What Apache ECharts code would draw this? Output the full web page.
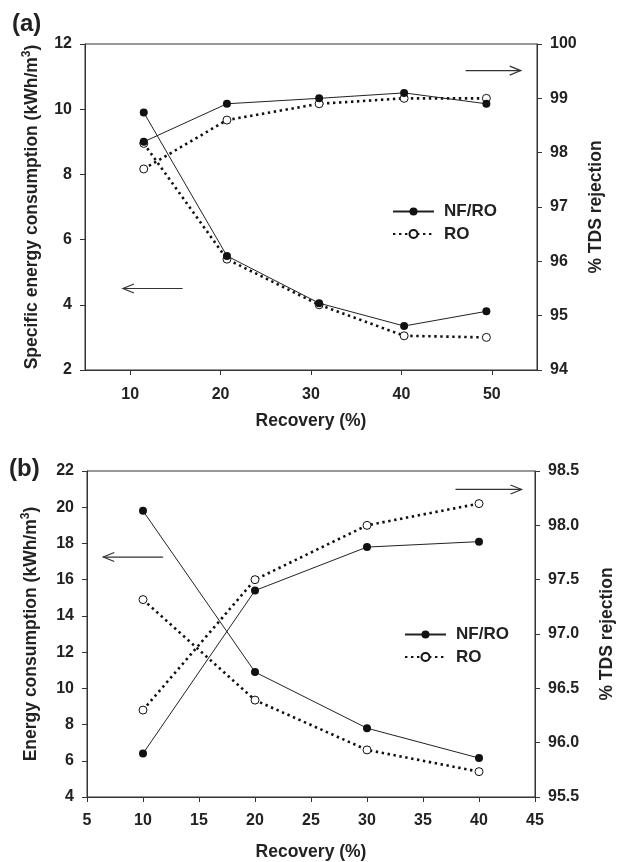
<!DOCTYPE html>
<html>
<head>
<meta charset="utf-8">
<style>
  html, body { margin: 0; padding: 0; background: #fff; }
  #chart { width: 624px; height: 862px; }
</style>
<script src="https://cdn.jsdelivr.net/npm/echarts@6/dist/echarts.min.js"></script>
</head>
<body>
<div id="chart"></div>
<script>
// Panel (a): recovery values and measured series
const recoveryA = [11.5, 20.7, 30.9, 40.3, 49.4];
const energyNfroA = [9.9, 5.5, 4.05, 3.35, 3.8];
const energyRoA = [8.95, 5.4, 4.0, 3.05, 3.0];
const rejectionNfroA = [98.2, 98.9, 99.0, 99.1, 98.9];
const rejectionRoA = [97.7, 98.6, 98.9, 99.0, 99.0];

// Panel (b)
const recoveryB = [10, 20, 30, 40];
const energyNfroB = [19.8, 10.9, 7.8, 6.15];
const energyRoB = [14.9, 9.35, 6.6, 5.4];
const rejectionNfroB = [95.9, 97.4, 97.8, 97.85];
const rejectionRoB = [96.3, 97.5, 98.0, 98.2];

// Tick labels
const xTicksA = [10, 20, 30, 40, 50];

const FONT = 'Liberation Sans, Arial, sans-serif';
const TXT = '#222';
const AX = '#333';
const NAME_SIZE = 17.5;

const pairs = (xs, ys) => xs.map((x, i) => [x, ys[i]]);

const chart = echarts.init(document.getElementById('chart'), null, { renderer: 'canvas' });

const lbl = { color: TXT, fontFamily: FONT, fontWeight: 'bold', fontSize: 16 };
const axisLine = { show: true, lineStyle: { color: AX, width: 1 } };
const axisTick = { show: true, inside: false, length: 5, lineStyle: { color: AX, width: 1 } };

function nameStyle() {
  return { color: TXT, fontFamily: FONT, fontWeight: 'bold', fontSize: NAME_SIZE };
}
function richName(prefix) {
  return {
    name: '{a|' + prefix + ' (kWh/m}{s|3}{a|)}',
    nameTextStyle: {
      rich: {
        a: { color: TXT, fontFamily: FONT, fontWeight: 'bold', fontSize: NAME_SIZE },
        s: { color: TXT, fontFamily: FONT, fontWeight: 'bold', fontSize: 12, padding: [0, 0, 10, 0] }
      }
    }
  };
}

function solid(name, xi, yi, data) {
  return {
    type: 'line', name, xAxisIndex: xi, yAxisIndex: yi, data,
    symbol: 'circle', symbolSize: 8, showSymbol: true,
    lineStyle: { color: '#222', width: 1, type: 'solid' },
    itemStyle: { color: '#111', borderColor: '#111', borderWidth: 0 },
    z: 3, animation: false
  };
}
function dotted(name, xi, yi, data) {
  return {
    type: 'line', name, xAxisIndex: xi, yAxisIndex: yi, data,
    symbol: 'circle', symbolSize: 8, showSymbol: true,
    lineStyle: { color: '#111', width: 2.6, type: [2.4, 3.6], cap: 'butt' },
    itemStyle: { color: '#fff', borderColor: '#111', borderWidth: 1 },
    z: 2, animation: false
  };
}

const legendBase = {
  orient: 'vertical', itemWidth: 41, itemHeight: 10, itemGap: 5.5,
  data: ['NF/RO', 'RO'], selectedMode: false,
  textStyle: { color: TXT, fontFamily: FONT, fontWeight: 'bold', fontSize: 17, lineHeight: 17, padding: [0, 0, 0, 5] }
};

const option = {
  backgroundColor: '#fff',
  animation: false,
  grid: [
    { left: 85, top: 44, width: 452, height: 326, show: true, borderColor: AX, borderWidth: 1, backgroundColor: 'transparent' },
    { left: 87, top: 471, width: 451, height: 326, show: true, borderColor: AX, borderWidth: 1, backgroundColor: 'transparent' }
  ],
  xAxis: [
    {
      type: 'value', gridIndex: 0, min: 5, max: 55,
      axisLine, splitLine: { show: false },
      axisTick: Object.assign({}, axisTick, { customValues: xTicksA }),
      axisLabel: Object.assign({}, lbl, { margin: 17, customValues: xTicksA }),
      name: 'Recovery (%)', nameLocation: 'middle', nameGap: 42, nameTextStyle: nameStyle()
    },
    {
      type: 'value', gridIndex: 1, min: 5, max: 45, interval: 5,
      axisLine, splitLine: { show: false }, axisTick,
      axisLabel: Object.assign({}, lbl, { margin: 16 }),
      name: 'Recovery (%)', nameLocation: 'middle', nameGap: 46, nameTextStyle: nameStyle()
    }
  ],
  yAxis: [
    Object.assign({
      type: 'value', gridIndex: 0, position: 'left', min: 2, max: 12, interval: 2,
      axisLine, axisTick, splitLine: { show: false },
      axisLabel: Object.assign({}, lbl, { margin: 13 }),
      nameLocation: 'middle', nameGap: 42
    }, richName('Specific energy consumption')),
    {
      type: 'value', gridIndex: 0, position: 'right', min: 94, max: 100, interval: 1,
      axisLine, axisTick, splitLine: { show: false },
      axisLabel: Object.assign({}, lbl, { margin: 13 }),
      name: '% TDS rejection', nameLocation: 'middle', nameGap: 48, nameTextStyle: nameStyle()
    },
    Object.assign({
      type: 'value', gridIndex: 1, position: 'left', min: 4, max: 22, interval: 2,
      axisLine, axisTick, splitLine: { show: false },
      axisLabel: Object.assign({}, lbl, { margin: 13 }),
      nameLocation: 'middle', nameGap: 45
    }, richName('Energy consumption')),
    {
      type: 'value', gridIndex: 1, position: 'right', min: 95.5, max: 98.5, interval: 0.5,
      axisLine, axisTick, splitLine: { show: false },
      axisLabel: Object.assign({}, lbl, { margin: 13, formatter: v => v.toFixed(1) }),
      name: '% TDS rejection', nameLocation: 'middle', nameGap: 63, nameTextStyle: nameStyle()
    }
  ],
  legend: [
    Object.assign({}, legendBase, { left: 387, top: 198 }),
    Object.assign({}, legendBase, { left: 399, top: 621 })
  ],
  series: [
    solid('NF/RO', 0, 0, pairs(recoveryA, energyNfroA)),
    dotted('RO', 0, 0, pairs(recoveryA, energyRoA)),
    solid('NF/RO', 0, 1, pairs(recoveryA, rejectionNfroA)),
    dotted('RO', 0, 1, pairs(recoveryA, rejectionRoA)),
    solid('NF/RO', 1, 2, pairs(recoveryB, energyNfroB)),
    dotted('RO', 1, 2, pairs(recoveryB, energyRoB)),
    solid('NF/RO', 1, 3, pairs(recoveryB, rejectionNfroB)),
    dotted('RO', 1, 3, pairs(recoveryB, rejectionRoB))
  ]
};

chart.setOption(option);

// Direction arrows pointing to the axis each pair of curves belongs to,
// given in data units of the relevant axes.
const arrows = [
  { xi: 0, yi: 0, from: [15.8, 4.5], to: [9.2, 4.5] },
  { xi: 0, yi: 1, from: [47.1, 99.51], to: [53.2, 99.51] },
  { xi: 1, yi: 2, from: [11.8, 17.25], to: [6.45, 17.25] },
  { xi: 1, yi: 3, from: [37.9, 98.33], to: [43.8, 98.33] }
];

const graphics = [];
arrows.forEach(a => {
  const p0 = chart.convertToPixel({ xAxisIndex: a.xi, yAxisIndex: a.yi }, a.from);
  const p1 = chart.convertToPixel({ xAxisIndex: a.xi, yAxisIndex: a.yi }, a.to);
  const dir = Math.sign(p1[0] - p0[0]);
  const head = 11, half = 4.5;
  graphics.push({
    type: 'polyline', silent: true,
    shape: { points: [p0, p1] },
    style: { stroke: '#333', lineWidth: 1.2, fill: null }
  });
  graphics.push({
    type: 'polyline', silent: true,
    shape: { points: [[p1[0] - dir * head, p1[1] - half], p1, [p1[0] - dir * head, p1[1] + half]] },
    style: { stroke: '#333', lineWidth: 1.2, fill: null }
  });
});

// Panel letters
graphics.push({
  type: 'text', left: 12, top: 12,
  style: { text: '(a)', fill: TXT, font: 'bold 24px ' + FONT }
});
graphics.push({
  type: 'text', left: 9, top: 457,
  style: { text: '(b)', fill: TXT, font: 'bold 24px ' + FONT }
});

chart.setOption({ graphic: graphics });
</script>
</body>
</html>
